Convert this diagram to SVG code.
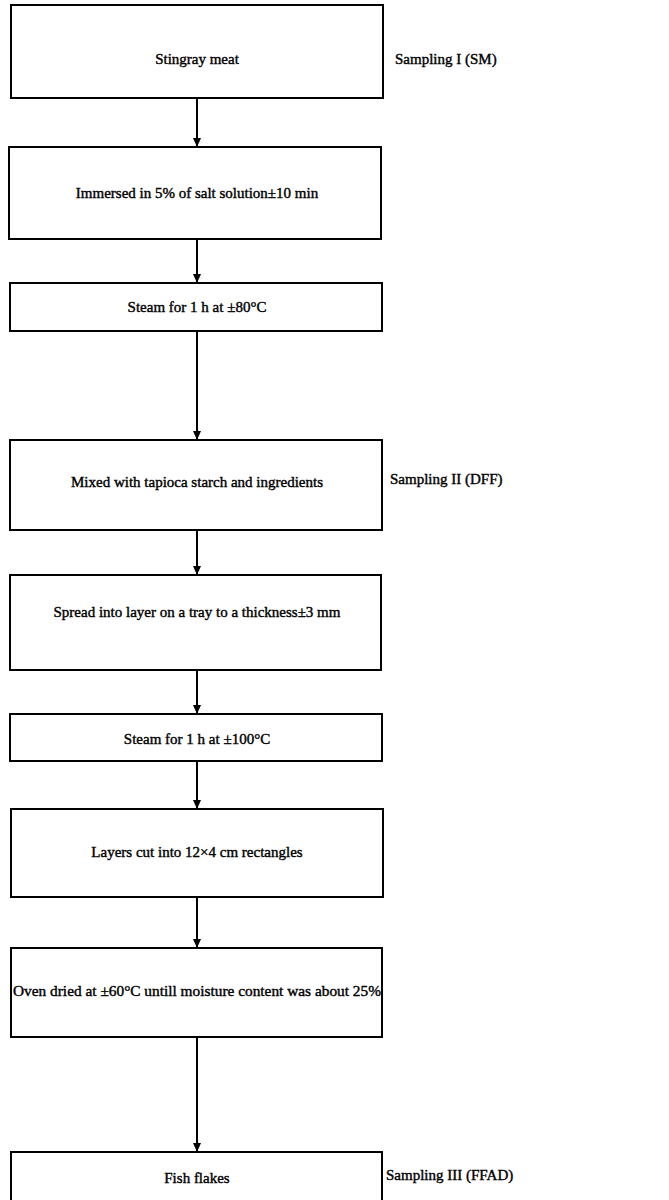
<svg xmlns="http://www.w3.org/2000/svg" width="669" height="1200" viewBox="0 0 669 1200">
<style>
.box{fill:#fff;stroke:#000;stroke-width:2}
.t{font-family:'Liberation Serif','DejaVu Serif',serif;font-size:15px;fill:#000;text-anchor:middle;stroke:#000;stroke-width:0.4}
.s{font-family:'Liberation Serif','DejaVu Serif',serif;font-size:15px;fill:#000;stroke:#000;stroke-width:0.4}
.c{stroke:#000;stroke-width:2;fill:none;marker-end:url(#ah)}
</style>
<defs>
<marker id="ah" markerWidth="9" markerHeight="8" refX="9" refY="4" orient="auto" markerUnits="userSpaceOnUse" viewBox="0 0 9 8">
<path d="M0,0 L9,4 L0,8 Z" fill="#000"/>
</marker>
</defs>
<rect width="669" height="1200" fill="#fff"/>
<g id="connectors">
<line class="c" x1="197" y1="98" x2="197" y2="147"/>
<line class="c" x1="197" y1="239" x2="197" y2="283"/>
<line class="c" x1="197" y1="331" x2="197" y2="440"/>
<line class="c" x1="197" y1="530" x2="197" y2="575"/>
<line class="c" x1="197" y1="670" x2="197" y2="714"/>
<line class="c" x1="197" y1="761" x2="197" y2="809"/>
<line class="c" x1="197" y1="897" x2="197" y2="948"/>
<line class="c" x1="197" y1="1037" x2="197" y2="1152"/>
</g>
<g id="n1"><rect class="box" x="11" y="5" width="372" height="93"/><text class="t" x="197" y="64" font-family="Liberation Serif">Stingray meat</text></g>
<g id="n2"><rect class="box" x="9" y="147" width="372" height="92"/><text class="t" x="197" y="198" font-family="Liberation Serif">Immersed in 5% of salt solution±10 min</text></g>
<g id="n3"><rect class="box" x="10" y="283" width="372" height="48"/><text class="t" x="197" y="312" font-family="Liberation Serif">Steam for 1 h at ±80°C</text></g>
<g id="n4"><rect class="box" x="10" y="440" width="372" height="90"/><text class="t" x="197" y="487" font-family="Liberation Serif">Mixed with tapioca starch and ingredients</text></g>
<g id="n5"><rect class="box" x="10" y="575" width="371" height="95"/><text class="t" x="197" y="617" font-family="Liberation Serif">Spread into layer on a tray to a thickness±3 mm</text></g>
<g id="n6"><rect class="box" x="10" y="714" width="372" height="47"/><text class="t" x="197" y="744" font-family="Liberation Serif">Steam for 1 h at ±100°C</text></g>
<g id="n7"><rect class="box" x="11" y="809" width="372" height="88"/><text class="t" x="197" y="857" font-family="Liberation Serif">Layers cut into 12×4 cm rectangles</text></g>
<g id="n8"><rect class="box" x="11" y="948" width="371" height="89"/><text class="t" x="197" y="996" font-family="Liberation Serif" textLength="368" lengthAdjust="spacingAndGlyphs">Oven dried at ±60°C untill moisture content was about 25%</text></g>
<g id="n9"><rect class="box" x="11" y="1152" width="371" height="60"/><text class="t" x="197" y="1183" font-family="Liberation Serif">Fish flakes</text></g>
<g id="labels">
<text class="s" x="395" y="64" font-family="Liberation Serif">Sampling I (SM)</text>
<text class="s" x="390" y="484" font-family="Liberation Serif">Sampling II (DFF)</text>
<text class="s" x="386" y="1180" font-family="Liberation Serif">Sampling III (FFAD)</text>
</g>
</svg>
